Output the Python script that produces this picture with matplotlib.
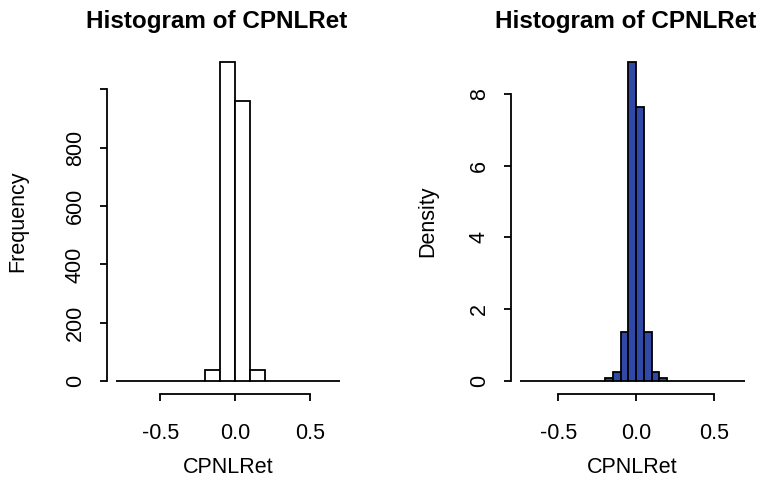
import matplotlib
matplotlib.use("Agg")
import matplotlib.pyplot as plt
import numpy as np

plt.rcParams['font.family'] = ['Liberation Sans', 'DejaVu Sans']

# Left: frequency histogram, bin width 0.1 starting at -0.8
freq_start = -0.8
freq_width = 0.1
freq_counts = [1, 0, 0, 0, 0, 2, 39, 1094, 960, 38, 2, 0, 0, 0, 1]

# Right: density histogram, bin width 0.05 starting at -0.75
dens_start = -0.75
dens_width = 0.05
dens_values = [0.01, 0, 0, 0, 0, 0, 0, 0, 0, 0.02, 0, 0.10, 0.26, 1.36, 8.89,
               7.63, 1.38, 0.26, 0.09, 0.02, 0, 0, 0, 0, 0, 0, 0, 0, 0.01]

xticks = [-0.5, 0.0, 0.5]
xtick_labels = ["-0.5", "0.0", "0.5"]
freq_yticks = [0, 200, 400, 600, 800, 1000]
freq_ylabels = ["0", "200", "400", "600", "800", ""]
dens_yticks = [0, 2, 4, 6, 8]
dens_ylabels = ["0", "2", "4", "6", "8"]

title = "Histogram of CPNLRet"
xlabel = "CPNLRet"

W, H = 759, 483
fig = plt.figure(figsize=(W / 100, H / 100), dpi=100)

FS = 15.5


def px_axes(x0, x1, y0, y1):
    return fig.add_axes([x0 / W, 1 - y1 / H, (x1 - x0) / W, (y1 - y0) / H])


def style(ax, edges, heights, color, yticks, ylabels, ylabel, ybound, ylpad, tx):
    lo, hi = edges[0], edges[-1]
    ax.bar(edges[:-1], heights, width=np.diff(edges), align='edge',
           color=color, edgecolor='black', linewidth=1.3)
    r = hi - lo
    ax.set_xlim(lo - 0.04 * r, hi + 0.04 * r)
    ymax = max(heights)
    ax.set_ylim(-0.04 * ymax, 1.04 * ymax)
    for s in ['top', 'right']:
        ax.spines[s].set_visible(False)
    ax.spines['bottom'].set_bounds(xticks[0], xticks[-1])
    ax.spines['left'].set_bounds(yticks[0], ybound)
    for s in ['bottom', 'left']:
        ax.spines[s].set_linewidth(1.3)
    ax.set_xticks(xticks)
    ax.set_xticklabels(xtick_labels, fontsize=FS)
    ax.set_yticks(yticks)
    ax.set_yticklabels(ylabels, fontsize=FS, rotation=90, va='center')
    ax.tick_params(length=5, width=1.3)
    ax.tick_params(axis='x', pad=16)
    ax.tick_params(axis='y', pad=10)
    ax.set_xlabel(xlabel, fontsize=FS, labelpad=9)
    ax.set_ylabel(ylabel, fontsize=FS, labelpad=ylpad)
    fig.text(tx / W, 1 - 28 / H, title, fontsize=17.5, fontweight='bold',
             ha='center', va='baseline')
    ax.patch.set_visible(False)


ax1 = px_axes(106.6, 349, 49, 394)
e1 = freq_start + freq_width * np.arange(len(freq_counts) + 1)
style(ax1, e1, freq_counts, 'white', freq_yticks, freq_ylabels, 'Frequency',
      1000, 26, 217)

ax2 = px_axes(510.5, 754, 49, 394)
e2 = dens_start + dens_width * np.arange(len(dens_values) + 1)
style(ax2, e2, dens_values, '#3049A6', dens_yticks, dens_ylabels, 'Density',
      8, 22, 626)

fig.savefig('out.png', dpi=100)
